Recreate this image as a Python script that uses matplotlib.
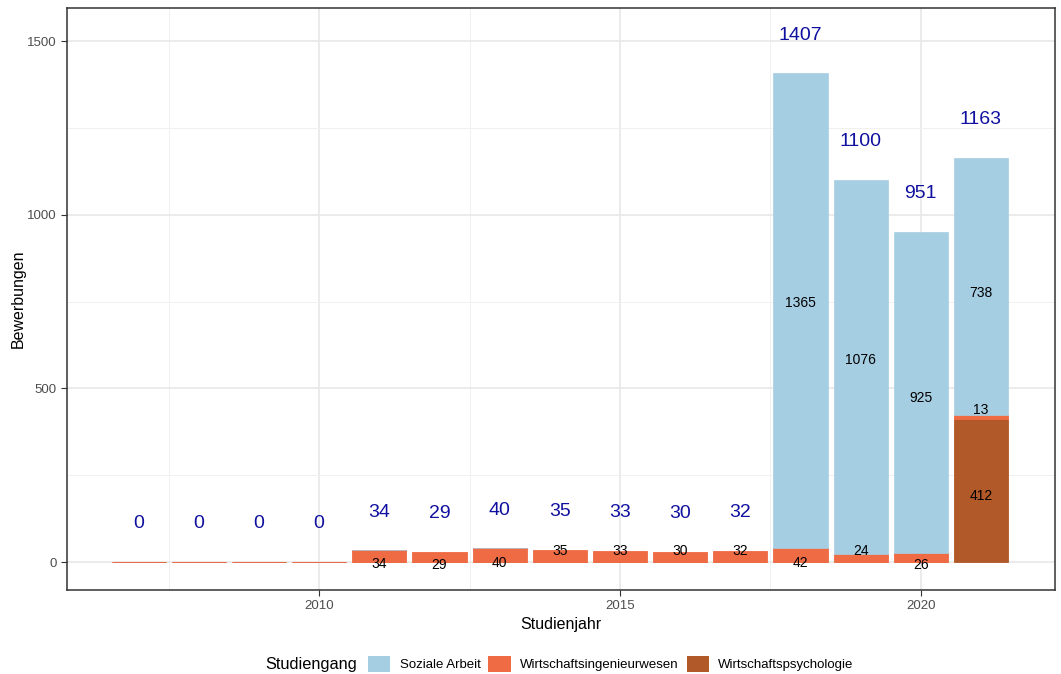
import numpy as np
import matplotlib

matplotlib.use("Agg")
import matplotlib.pyplot as plt
from matplotlib.patches import Patch
from matplotlib.ticker import MultipleLocator

plt.rcParams["font.family"] = ["Liberation Sans", "DejaVu Sans"]

years = np.arange(2007, 2022)
soziale_arbeit = [np.nan, np.nan, np.nan, np.nan, 0, np.nan, 0, np.nan, np.nan, np.nan, np.nan, 1365, 1076, 925, 738]
wirtschaftsing = [0, 0, 0, 0, 34, 29, 40, 35, 33, 30, 32, 42, 24, 26, 13]
wirtschaftspsy = [0, 0, 0, 0, 0, 0, 0, 0, 0, 0, 0, 0, 0, 0, 412]
series_names = ["Soziale Arbeit", "Wirtschaftsingenieurwesen", "Wirtschaftspsychologie"]
colors = ["#a6cee3", "#ef6b44", "#b15928"]

# label jitter (y offsets of the segment labels, as in the original plot)
jit_ing = [0, 0, 0, 0, -23, -23, -23, 14, 15, 17, 16, -24, 20, -22, 19]
jit_soz = [0, 0, 0, 0, 0, 0, 0, 0, 0, 0, 0, 21, 20, -16, -19]
jit_psy = [0, 0, 0, 0, 0, 0, 0, 0, 0, 0, 0, 0, 0, 0, -16]

soz = np.array(soziale_arbeit, dtype=float)
ing = np.array(wirtschaftsing, dtype=float)
psy = np.array(wirtschaftspsy, dtype=float)
total = np.nansum(np.vstack([soz, ing, psy]), axis=0)

fig = plt.figure(figsize=(10.61, 6.74), dpi=100)
ax = fig.add_axes([67 / 1061, 84 / 674, 988 / 1061, 582 / 674])

w = 0.9
# stack: psychologie at bottom, then ingenieurwesen, then soziale arbeit
ax.bar(years, psy, w, color=colors[2], edgecolor=colors[2], linewidth=0.6, zorder=3)
ax.bar(years, ing, w, bottom=psy, color=colors[1], edgecolor=colors[1], linewidth=0.6, zorder=3)
m = ~np.isnan(soz)
ax.bar(years[m], soz[m], w, bottom=(psy + ing)[m], color=colors[0], edgecolor=colors[0], linewidth=0.5, zorder=3)

for i, yr in enumerate(years):
    if psy[i] > 0:
        ax.text(yr, psy[i] / 2 + jit_psy[i], f"{int(psy[i])}", ha="center", va="center", fontsize=10, zorder=4)
    if ing[i] > 0:
        ax.text(yr, psy[i] + ing[i] / 2 + jit_ing[i], f"{int(ing[i])}", ha="center", va="center", fontsize=10, zorder=4)
    if not np.isnan(soz[i]) and soz[i] > 0:
        ax.text(yr, psy[i] + ing[i] + soz[i] / 2 + jit_soz[i], f"{int(soz[i])}", ha="center", va="center", fontsize=10, zorder=4)
    ax.text(yr, total[i] + 110, f"{int(total[i])}", ha="center", va="center", fontsize=14, color="#1010a0", zorder=4)

ax.set_xlim(2005.81, 2022.23)
ax.set_ylim(-80, 1595)
ax.xaxis.set_major_locator(MultipleLocator(5))
ax.xaxis.set_minor_locator(MultipleLocator(2.5))
ax.yaxis.set_major_locator(MultipleLocator(500))
ax.yaxis.set_minor_locator(MultipleLocator(250))
ax.grid(which="major", color="#e6e6e6", linewidth=1.1, zorder=0)
ax.grid(which="minor", color="#f0f0f0", linewidth=0.7, zorder=0)
ax.set_axisbelow(True)
ax.tick_params(which="minor", length=0)
ax.tick_params(which="major", length=4, color="#333333", labelcolor="#4d4d4d", labelsize=9.5)
for s in ax.spines.values():
    s.set_color("#333333")
    s.set_linewidth(1.1)

ax.set_xlabel("Studienjahr", fontsize=11.5, labelpad=3)
ax.set_ylabel("Bewerbungen", fontsize=11.5, labelpad=1)

handles = [Patch(facecolor=c, edgecolor="none") for c in colors]
fig.text(265 / 1061, 1 - 664 / 674, "Studiengang", fontsize=11.8, ha="left", va="center")
fig.legend(handles, series_names, loc="center left", bbox_to_anchor=(356 / 1061, 1 - 664 / 674),
           ncol=3, frameon=False, fontsize=9.5, handlelength=1.7, handleheight=1.5,
           handletextpad=0.7, columnspacing=0.6)

fig.savefig("out.png", dpi=100)
plt.close(fig)
